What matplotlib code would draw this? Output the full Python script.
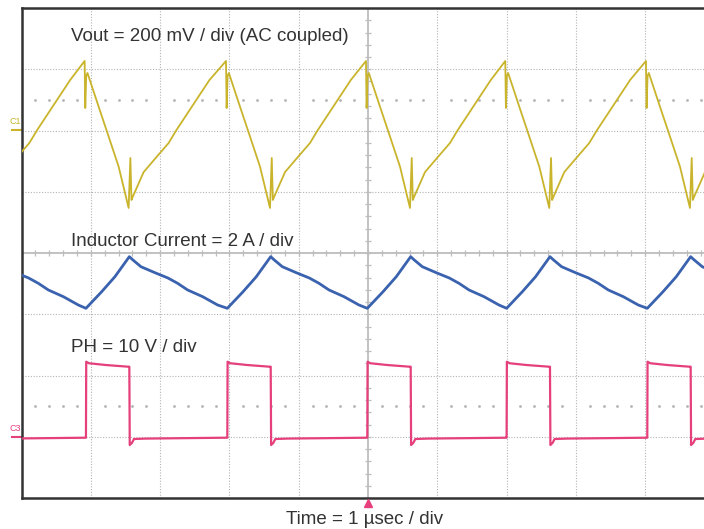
import matplotlib
matplotlib.use('Agg')
import matplotlib.pyplot as plt
import numpy as np

# scope screen: 10 x 8 divisions, 1 usec / div, trigger at the centre
# PH rising edges (div from trigger)
edge_times = [-6.08, -4.07, -2.03, -0.01, 2.00, 4.03]

# one switching period of each trace: time after the PH edge (div), level (div)
vout_dt = [-0.019, -0.010, 0.004, 0.022, 0.183, 0.328, 0.472, 0.616, 0.641,
           0.657, 0.674, 0.833, 1.006, 1.193, 1.306, 1.782]
vout_lv = [3.135, 2.367, 2.890, 2.939, 2.389, 1.899, 1.409, 0.735, 1.551,
           0.865, 0.914, 1.322, 1.551, 1.796, 2.008, 2.824]

il_dt = [0.0, 0.227, 0.418, 0.626, 0.678, 0.794, 0.996, 1.183, 1.323, 1.468, 1.684, 1.900]
il_lv = [-0.903, -0.632, -0.387, -0.060, -0.114, -0.224, -0.322, -0.408, -0.495,
         -0.604, -0.713, -0.849]

ph_dt = [0.0, 0.004, 0.043, 0.289, 0.606, 0.626, 0.632, 0.664, 0.693, 0.870, 1.990]
ph_lv = [-3.016, -1.775, -1.800, -1.829, -1.856, -1.856, -3.135, -3.100, -3.037, -3.030, -3.016]

labels = ['Vout = 200 mV / div (AC coupled)', 'Inductor Current = 2 A / div', 'PH = 10 V / div']
label_y = [3.461, 0.114, -1.616]
xlabel = 'Time = 1 \u00b5sec / div'

c_vout = '#c9b42c'
c_il = '#3a62ae'
c_ph = '#e5407c'


def tile(dt, lv):
    # repeat one period at every switching edge
    xs, ys = [], []
    for t0 in edge_times:
        xs += [t0 + d for d in dt]
        ys += lv
    return np.array(xs), np.array(ys)


plt.rcParams['font.family'] = ['Liberation Sans', 'DejaVu Sans']
fig = plt.figure(figsize=(7.04, 5.29), dpi=100)
W, H = 704.0, 529.0
ax = fig.add_axes([21.5 / W, 31 / H, 693 / W, 490 / H])
ax.set_xlim(-5, 5)
ax.set_ylim(-4, 4)

# graticule
for gx in range(-4, 5):
    if gx != 0:
        ax.axvline(gx, color='#b4b4b4', lw=0.8, ls=(0, (1, 1.5)), zorder=1)
for gy in range(-3, 4):
    if gy != 0:
        ax.axhline(gy, color='#b4b4b4', lw=0.8, ls=(0, (1, 1.5)), zorder=1)
ax.axvline(0, color='#bdbdbd', lw=1.3, zorder=1)
ax.axhline(0, color='#bdbdbd', lw=1.3, zorder=1)
tx = np.arange(-50, 51) * 0.2
ty = np.arange(-40, 41) * 0.2
ax.plot(tx, np.zeros_like(tx), ls='none', marker='|', ms=5, mew=0.9, color='#bdbdbd', zorder=1)
ax.plot(np.zeros_like(ty), ty, ls='none', marker='_', ms=5, mew=0.9, color='#bdbdbd', zorder=1)
dx = tx[np.abs(tx - np.round(tx)) > 0.01]
for hy in (2.5, -2.5):
    ax.plot(dx, np.full_like(dx, hy), ls='none', marker='s', ms=0.9, color='#b4b4b4', zorder=1)

# traces
x, y = tile(vout_dt, vout_lv)
ax.plot(x, y, color=c_vout, lw=1.3, zorder=3)
x, y = tile(il_dt, il_lv)
ax.plot(x, y, color=c_il, lw=2.0, zorder=3)
x, y = tile(ph_dt, ph_lv)
ax.plot(x, y, color=c_ph, lw=1.6, zorder=3)

for s, ly in zip(labels, label_y):
    ax.text(-4.286, ly, s, fontsize=13.5, color='#333333', va='baseline', zorder=4)

# channel reference markers and trigger position
ax.plot([-5.14, -5.0], [2.008, 2.008], color=c_vout, lw=1.5, clip_on=False)
ax.text(-5.17, 2.07, 'C1', fontsize=6.5, color=c_vout, va='bottom', clip_on=False)
ax.plot([-5.14, -5.0], [-3.0, -3.0], color=c_ph, lw=1.5, clip_on=False)
ax.text(-5.17, -2.94, 'C3', fontsize=6.5, color=c_ph, va='bottom', clip_on=False)
ax.plot([0], [-4.08], marker='^', ms=6, color=c_ph, clip_on=False, zorder=5)

for sp in ax.spines.values():
    sp.set_color('#333333')
    sp.set_linewidth(1.8)
ax.set_xticks([])
ax.set_yticks([])

fig.text(364.5 / W, 1 - 524 / H, xlabel, fontsize=13.5, color='#333333', ha='center', va='baseline')

fig.savefig('out.png', dpi=100)
